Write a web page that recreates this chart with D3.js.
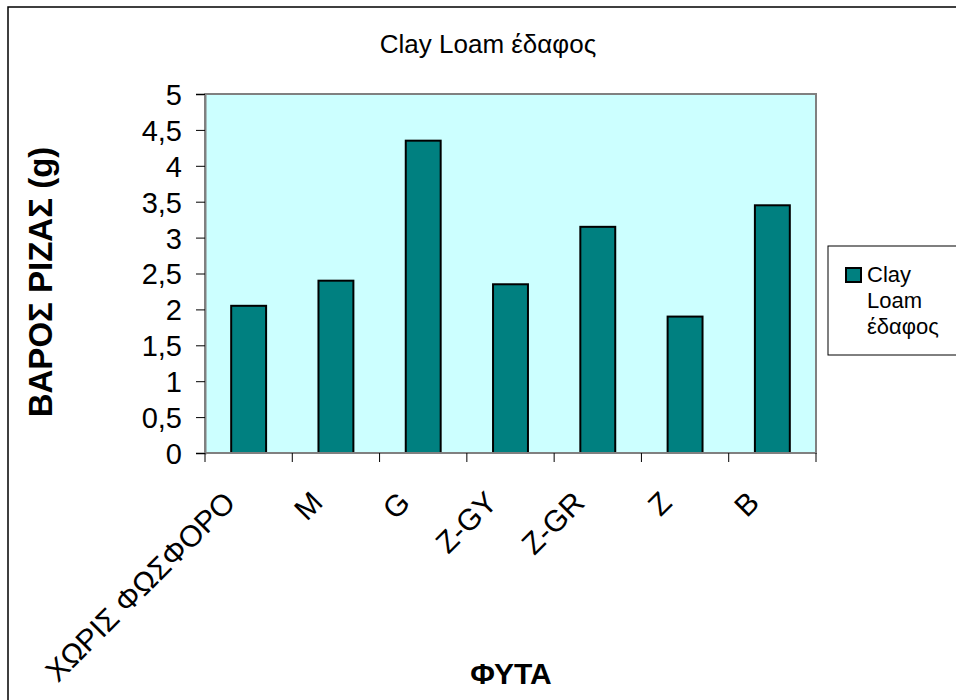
<!DOCTYPE html>
<html><head><meta charset="utf-8">
<script src="https://cdn.jsdelivr.net/npm/d3@7"></script>
<style>body{margin:0;background:#fff}svg{display:block}text{font-family:Arial,"Liberation Sans",sans-serif;fill:#000}</style>
</head><body><svg id="c" width="956" height="700"></svg>
<script>
const categories = ["ΧΩΡΙΣ ΦΩΣΦΟΡΟ","M","G","Z-GY","Z-GR","Z","B"];
const values = [2.05,2.4,4.35,2.35,3.15,1.9,3.45];
const yTicks = [0,0.5,1,1.5,2,2.5,3,3.5,4,4.5,5];
const seriesName = "Clay Loam έδαφος";
const legendLines = ["Clay","Loam","έδαφος"];

const svg = d3.select("#c");
const L=205,R=816,T=94,B=453;
svg.append("rect").attr("x",8).attr("y",7).attr("width",960).attr("height",700).attr("fill","#fff").attr("stroke","#000").attr("stroke-width",1.5);

const xb = d3.scaleBand().domain(categories).range([L,R]);
const y = d3.scaleLinear().domain([0,5]).range([B,T]);

svg.append("rect").attr("x",L).attr("y",T).attr("width",R-L).attr("height",B-T).attr("fill","#ccffff").attr("stroke","#808080").attr("stroke-width",2);

svg.selectAll(".bar").data(values).join("rect")
 .attr("x",(d,i)=>xb(categories[i])+xb.bandwidth()*0.3)
 .attr("width",xb.bandwidth()*0.4)
 .attr("y",d=>y(d)).attr("height",d=>B-y(d))
 .attr("fill","#008080").attr("stroke","#000").attr("stroke-width",2);

// y axis
const ya = svg.append("g").attr("transform",`translate(${L},0)`).call(d3.axisLeft(y).tickValues(yTicks).tickSize(9).tickPadding(14).tickFormat(d=>String(d).replace(".",",")));
ya.select(".domain").attr("stroke","#808080").attr("stroke-width",2);
ya.selectAll(".tick line").attr("stroke","#000");
ya.selectAll("text").attr("font-size",29).attr("fill","#000").attr("dy","0.36em").style("font-family","Arial, 'Liberation Sans', sans-serif");

// x axis ticks at band boundaries
const bounds = categories.map(c=>xb(c)).concat([R]);
svg.append("line").attr("x1",L).attr("x2",R).attr("y1",B).attr("y2",B).attr("stroke","#808080").attr("stroke-width",2);
svg.selectAll(".xt").data(bounds).join("line").attr("x1",d=>d).attr("x2",d=>d).attr("y1",B).attr("y2",B+9).attr("stroke","#000");
svg.selectAll(".xl").data(categories).join("text")
 .attr("transform",d=>`translate(${xb(d)+xb.bandwidth()/2-19},${B+44}) rotate(-45)`)
 .attr("text-anchor","end").attr("font-size",30).attr("dy","0.35em").text(d=>d);

svg.append("text").attr("x",488).attr("y",53).attr("text-anchor","middle").attr("font-size",26).text(seriesName);
svg.append("text").attr("transform",`translate(52,282) rotate(-90)`).attr("text-anchor","middle").attr("font-size",33).attr("font-weight","bold").text("ΒΑΡΟΣ ΡΙΖΑΣ (g)");
svg.append("text").attr("x",511).attr("y",684).attr("text-anchor","middle").attr("font-size",30).attr("font-weight","bold").text("ΦΥΤΑ");

// legend
const lg = svg.append("g");
lg.append("rect").attr("x",828).attr("y",246).attr("width",140).attr("height",109).attr("fill","#fff").attr("stroke","#000").attr("stroke-width",1);
lg.append("rect").attr("x",846).attr("y",268).attr("width",15).attr("height",14).attr("fill","#008080").attr("stroke","#000").attr("stroke-width",2);
const lt = lg.append("text").attr("x",867).attr("y",282).attr("font-size",22);
legendLines.forEach((w,i)=>lt.append("tspan").attr("x",867).attr("dy",i?26:0).text(w));
</script></body></html>
